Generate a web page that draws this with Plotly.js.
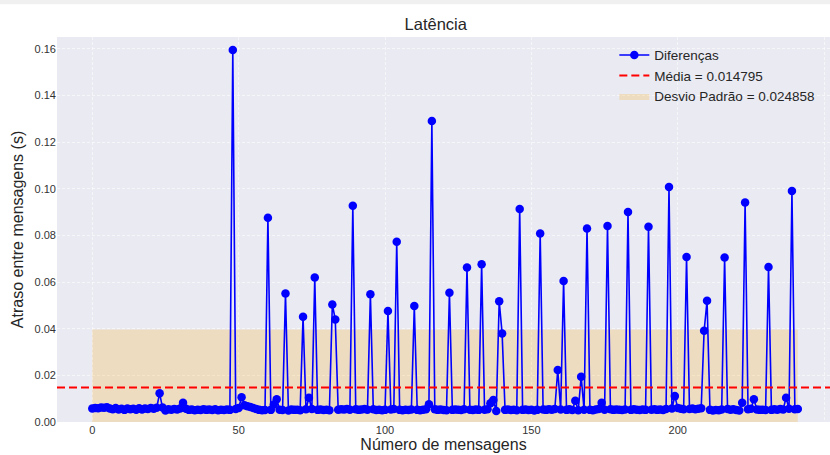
<!DOCTYPE html>
<html>
<head>
<meta charset="utf-8">
<script src="https://cdn.plot.ly/plotly-3.0.1.min.js"></script>
<style>
  html, body { margin: 0; padding: 0; background: #ffffff; }
  #chart { width: 830px; height: 455px; }
</style>
</head>
<body>
<div id="chart"></div>
<script>
// ---- Data ----
const delays = [
  0.0058, 0.0060, 0.0059, 0.0062, 0.0061, 0.0063, 0.0058, 0.0055, 0.0060, 0.0054,
  0.0057, 0.0052, 0.0058, 0.0055, 0.0057, 0.0053, 0.0059, 0.0054, 0.0058, 0.0056,
  0.0060, 0.0057, 0.0061, 0.0123, 0.0062, 0.0049, 0.0055, 0.0053, 0.0056, 0.0054,
  0.0058, 0.0083, 0.0057, 0.0052, 0.0054, 0.0050, 0.0053, 0.0051, 0.0055, 0.0052,
  0.0054, 0.0051, 0.0055, 0.0050, 0.0053, 0.0051, 0.0054, 0.0052, 0.1595, 0.0056,
  0.0060, 0.0106, 0.0072, 0.0068, 0.0064, 0.0060, 0.0056, 0.0052, 0.0050, 0.0051,
  0.0876, 0.0052, 0.0075, 0.0098, 0.0053, 0.0051, 0.0551, 0.0049, 0.0054, 0.0052,
  0.0053, 0.0050, 0.0451, 0.0055, 0.0104, 0.0056, 0.0620, 0.0052, 0.0054, 0.0051,
  0.0053, 0.0050, 0.0504, 0.0440, 0.0053, 0.0055, 0.0054, 0.0056, 0.0053, 0.0927,
  0.0055, 0.0052, 0.0054, 0.0056, 0.0053, 0.0548, 0.0055, 0.0051, 0.0053, 0.0050,
  0.0052, 0.0476, 0.0054, 0.0056, 0.0773, 0.0052, 0.0050, 0.0053, 0.0051, 0.0054,
  0.0497, 0.0052, 0.0050, 0.0053, 0.0055, 0.0076, 0.1291, 0.0055, 0.0052, 0.0054,
  0.0051, 0.0050, 0.0554, 0.0052, 0.0054, 0.0053, 0.0051, 0.0055, 0.0663, 0.0053,
  0.0051, 0.0054, 0.0052, 0.0676, 0.0053, 0.0055, 0.0080, 0.0094, 0.0047, 0.0518,
  0.0380, 0.0052, 0.0054, 0.0051, 0.0053, 0.0050, 0.0913, 0.0052, 0.0054, 0.0051,
  0.0053, 0.0049, 0.0052, 0.0808, 0.0054, 0.0052, 0.0055, 0.0053, 0.0056, 0.0223,
  0.0054, 0.0605, 0.0052, 0.0055, 0.0051, 0.0091, 0.0050, 0.0194, 0.0053, 0.0830,
  0.0052, 0.0050, 0.0054, 0.0056, 0.0083, 0.0053, 0.0841, 0.0055, 0.0052, 0.0054,
  0.0053, 0.0051, 0.0054, 0.0901, 0.0052, 0.0055, 0.0053, 0.0051, 0.0054, 0.0052,
  0.0837, 0.0053, 0.0055, 0.0052, 0.0054, 0.0051, 0.0056, 0.1008, 0.0058, 0.0111,
  0.0060, 0.0057, 0.0055, 0.0708, 0.0056, 0.0058, 0.0055, 0.0057, 0.0059, 0.0391,
  0.0520, 0.0052, 0.0049, 0.0051, 0.0050, 0.0054, 0.0705, 0.0056, 0.0053, 0.0055,
  0.0051, 0.0049, 0.0083, 0.0941, 0.0055, 0.0057, 0.0098, 0.0054, 0.0052, 0.0053,
  0.0051, 0.0665, 0.0052, 0.0055, 0.0053, 0.0056, 0.0054, 0.0104, 0.0057, 0.0991,
  0.0055, 0.0056
];
const messageIndex = delays.map((_, i) => i);
const MEAN = 0.014795;
const STD = 0.024858;
const seriesNames = ["Diferenças", "Média = 0.014795", "Desvio Padrão = 0.024858"];
const xTicks = [0, 50, 100, 150, 200, 250];
const yTicks = [0.00, 0.02, 0.04, 0.06, 0.08, 0.10, 0.12, 0.14, 0.16];

// ---- Build chart ----
const firstX = messageIndex[0];
const lastX = messageIndex[messageIndex.length - 1];

const bandTrace = {
  x: [firstX, lastX, lastX, firstX, firstX],
  y: [MEAN - STD, MEAN - STD, MEAN + STD, MEAN + STD, MEAN - STD],
  type: 'scatter',
  mode: 'lines',
  fill: 'toself',
  fillcolor: 'rgba(255,165,0,0.2)',
  line: { width: 0, color: 'rgba(255,165,0,0.2)' },
  name: seriesNames[2],
  legendrank: 3,
  hoverinfo: 'skip'
};

const mainTrace = {
  x: messageIndex,
  y: delays,
  type: 'scatter',
  mode: 'lines+markers',
  line: { color: '#0000ff', width: 1.6 },
  marker: { color: '#0000ff', size: 8.5 },
  name: seriesNames[0],
  legendrank: 1
};

const txt = '#262626';
const fontFam = '"Liberation Sans", Arial, Helvetica, sans-serif';

const layout = {
  width: 830,
  height: 455,
  margin: { l: 57, r: 0, t: 37, b: 33, pad: 0 },
  paper_bgcolor: '#ffffff',
  plot_bgcolor: '#EAEAF2',
  font: { family: fontFam, color: txt, size: 11 },
  title: {
    text: 'Latência',
    font: { family: fontFam, size: 16.5, color: txt },
    x: 0.49, xref: 'paper', xanchor: 'center',
    y: 0.946, yref: 'container', yanchor: 'middle'
  },
  xaxis: {
    range: [-12.05, 252.0],
    tickvals: xTicks,
    ticktext: xTicks.map(String),
    ticks: '',
    showline: false,
    zeroline: false,
    showgrid: true,
    gridcolor: 'rgba(255,255,255,0.8)',
    gridwidth: 0.7,
    griddash: '3px,2px',
    tickfont: { size: 11, color: '#333333' },
    automargin: false,
    title: { text: 'Número de mensagens', font: { size: 16, color: txt }, standoff: 2 }
  },
  yaxis: {
    range: [0, 0.1651],
    tickvals: yTicks,
    ticktext: yTicks.map(v => v.toFixed(2)),
    ticks: '',
    showline: false,
    zeroline: false,
    showgrid: true,
    gridcolor: 'rgba(255,255,255,0.8)',
    gridwidth: 0.7,
    griddash: '3px,2px',
    tickfont: { size: 11, color: '#333333' },
    automargin: false,
    title: { text: 'Atraso entre mensagens (s)', font: { size: 16, color: txt }, standoff: 6 }
  },
  legend: {
    x: 0.721, xanchor: 'left', xref: 'paper',
    y: 0.993, yanchor: 'top', yref: 'paper',
    bgcolor: 'rgba(0,0,0,0)',
    borderwidth: 0,
    font: { size: 13.5, color: txt },
    traceorder: 'normal'
  },
  shapes: [
    {
      type: 'line', xref: 'paper', x0: 0, x1: 1,
      yref: 'y', y0: MEAN, y1: MEAN,
      line: { color: '#ff0000', width: 2, dash: '8px,4px' },
      layer: 'above',
      showlegend: true,
      name: seriesNames[1],
      legendrank: 2
    },
    {
      type: 'rect', xref: 'paper', yref: 'paper',
      x0: -0.08, x1: 1.01, y0: 1.085, y1: 1.1,
      fillcolor: 'rgba(0,0,0,0.06)', line: { width: 0 }, layer: 'below'
    }
  ],
  showlegend: true
};

Plotly.newPlot('chart', [bandTrace, mainTrace], layout, { displayModeBar: false, staticPlot: true });
</script>
</body>
</html>
